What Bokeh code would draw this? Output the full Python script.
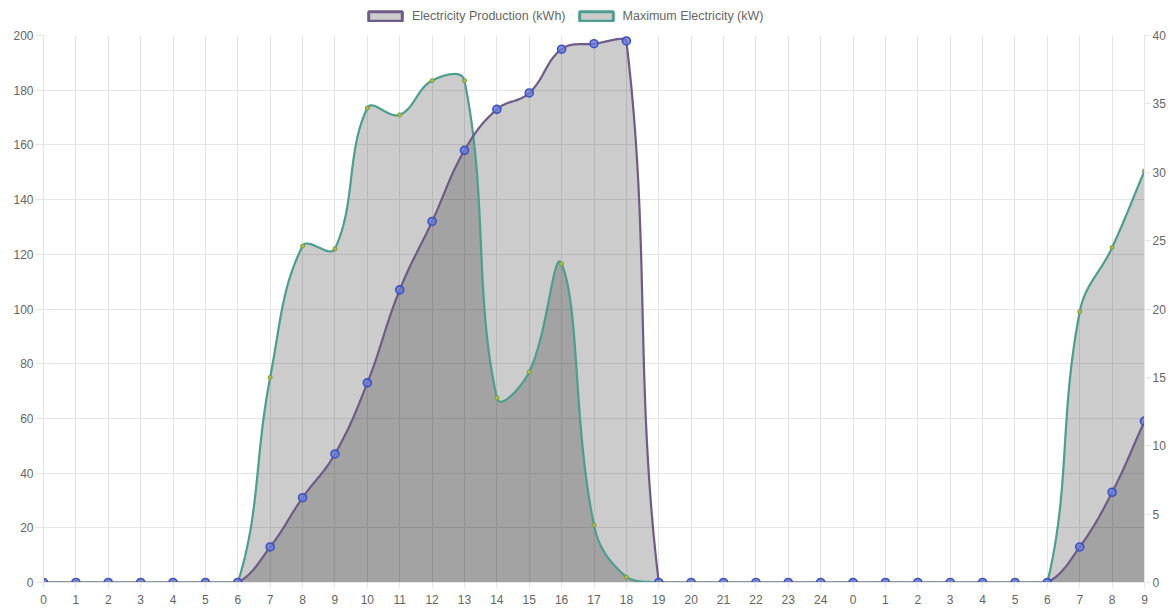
import math
import numpy as np
from bokeh.plotting import figure
from bokeh.layouts import column
from bokeh.models import (Range1d, LinearAxis, FixedTicker, Legend, LegendItem)
from bokeh.embed import file_html
from bokeh.resources import INLINE

# ---------------- data ----------------
hour_labels = ["0", "1", "2", "3", "4", "5", "6", "7", "8", "9", "10", "11", "12",
               "13", "14", "15", "16", "17", "18", "19", "20", "21", "22", "23", "24",
               "0", "1", "2", "3", "4", "5", "6", "7", "8", "9"]
production_kwh = [0, 0, 0, 0, 0, 0, 0, 13, 31, 47, 73, 107, 132, 158, 173, 179, 195, 197, 198,
                  0, 0, 0, 0, 0, 0, 0, 0, 0, 0, 0, 0, 0, 13, 33, 59]
max_power_kw = [0, 0, 0, 0, 0, 0, 0, 15, 24.6, 24.4, 34.7, 34.2, 36.7, 36.7, 13.5, 15.4, 23.3, 4.2, 0.4,
                0, 0, 0, 0, 0, 0, 0, 0, 0, 0, 0, 0, 0, 19.8, 24.5, 30.1]
left_ticks = [0, 20, 40, 60, 80, 100, 120, 140, 160, 180, 200]
right_ticks = [0, 5, 10, 15, 20, 25, 30, 35, 40]
series_names = ["Electricity Production (kWh)", "Maximum Electricity (kW)"]

# ---------------- style ----------------
W = 1168
LEG_H = 27
H = 608 - LEG_H
ML, MR, MT, MB = 43, 23, 8, 26
FW, FH = W - ML - MR, H - MT - MB
PURPLE = "#6f5b88"
TEAL = "#4d9d90"
TXT = "#666666"
GRID = "#e5e5e5"
FONT = "Liberation Sans"

n = len(hour_labels)
LEFT_MAX, RIGHT_MAX = 200, 40


def chartjs_curve(vals, y_max, tension=0.4, steps=24):
    """Chart.js style cardinal spline computed in pixel space, returned in data units."""
    sx = FW / (n - 1)
    sy = FH / y_max
    px = [i * sx for i in range(n)]
    py = [v * sy for v in vals]
    cps = []
    for i in range(n):
        pi = max(i - 1, 0)
        ni = min(i + 1, n - 1)
        d01 = math.hypot(px[i] - px[pi], py[i] - py[pi])
        d12 = math.hypot(px[ni] - px[i], py[ni] - py[i])
        tot = d01 + d12
        s01 = d01 / tot if tot else 0.0
        s12 = d12 / tot if tot else 0.0
        fa, fb = tension * s01, tension * s12
        dx, dy = px[ni] - px[pi], py[ni] - py[pi]
        cpp = [px[i] - fa * dx, py[i] - fa * dy]
        cpn = [px[i] + fb * dx, py[i] + fb * dy]
        for c in (cpp, cpn):
            c[0] = min(max(c[0], 0), FW)
            c[1] = min(max(c[1], 0), FH)
        cps.append((cpp, cpn))
    xs, ys = [px[0]], [py[0]]
    for i in range(n - 1):
        p0 = (px[i], py[i]); c1 = cps[i][1]; c2 = cps[i + 1][0]; p1 = (px[i + 1], py[i + 1])
        for k in range(1, steps + 1):
            t = k / steps
            a = (1 - t) ** 3; b = 3 * (1 - t) ** 2 * t; c = 3 * (1 - t) * t ** 2; d = t ** 3
            xs.append(a * p0[0] + b * c1[0] + c * c2[0] + d * p1[0])
            ys.append(a * p0[1] + b * c1[1] + c * c2[1] + d * p1[1])
    return [x / sx for x in xs], [y / sy for y in ys]


p = figure(width=W, height=H, output_backend="svg", toolbar_location=None,
           x_range=Range1d(0, n - 1), y_range=Range1d(0, LEFT_MAX),
           min_border_left=ML, min_border_top=MT, min_border_right=MR, min_border_bottom=MB)
p.extra_y_ranges = {"kw": Range1d(0, RIGHT_MAX)}
p.outline_line_color = None
p.background_fill_color = "white"

# axes
p.xaxis.ticker = FixedTicker(ticks=list(range(n)))
p.xaxis.major_label_overrides = {i: lab for i, lab in enumerate(hour_labels)}
p.yaxis.ticker = FixedTicker(ticks=left_ticks)
raxis = LinearAxis(y_range_name="kw", ticker=FixedTicker(ticks=right_ticks))
p.add_layout(raxis, "right")
for ax in [p.xaxis[0], p.yaxis[0], raxis]:
    ax.axis_line_color = GRID
    ax.major_tick_line_color = GRID
    ax.minor_tick_line_color = None
    ax.major_tick_in = 0
    ax.major_label_text_color = TXT
    ax.major_label_text_font = FONT
    ax.major_label_text_font_size = "12px"
p.xaxis.major_tick_out = 6
p.xaxis.major_label_standoff = 6
p.yaxis[0].major_tick_out = 8
p.yaxis[0].major_label_standoff = 2
raxis.major_tick_out = 6
raxis.major_label_standoff = 2

p.xgrid.ticker = FixedTicker(ticks=list(range(n)))
p.xgrid.grid_line_color = GRID
p.ygrid.grid_line_color = GRID

# curves
mx, my = chartjs_curve(max_power_kw, RIGHT_MAX)
px_, py_ = chartjs_curve(production_kwh, LEFT_MAX)

p.patch(mx + [mx[-1], mx[0]], my + [0, 0], y_range_name="kw",
        fill_color="black", fill_alpha=0.2, line_color=None)
p.patch(px_ + [px_[-1], px_[0]], py_ + [0, 0],
        fill_color="black", fill_alpha=0.2, line_color=None)
p.line(mx, my, y_range_name="kw", line_color=TEAL, line_width=2.2)
p.line(px_, py_, line_color=PURPLE, line_width=2.2)

xs = list(range(n))
p.scatter(xs, max_power_kw, y_range_name="kw", size=4, fill_color="#a9c24e",
          line_color="#7a9a3c", line_width=1)
p.scatter(xs, production_kwh, size=8, fill_color="#6a7bd6", fill_alpha=0.8,
          line_color="#3f51c0", line_width=1.6)

# ---------------- legend strip ----------------
lg = figure(width=W, height=LEG_H, output_backend="svg", toolbar_location=None,
            x_range=Range1d(0, 1), y_range=Range1d(0, 1), x_axis_type=None, y_axis_type=None,
            min_border=0)
lg.outline_line_color = None
lg.xgrid.visible = False
lg.ygrid.visible = False
nan = np.array([np.nan])
r1 = lg.rect(x=nan, y=nan, width=1, height=1, fill_color="black", fill_alpha=0.2,
             line_color=PURPLE, line_width=3)
r2 = lg.rect(x=nan, y=nan, width=1, height=1, fill_color="black", fill_alpha=0.2,
             line_color=TEAL, line_width=3)
legend = Legend(items=[LegendItem(label=series_names[0], renderers=[r1]),
                       LegendItem(label=series_names[1], renderers=[r2])],
                orientation="horizontal", location=(321, 4),
                glyph_width=42, glyph_height=12, label_height=12, label_standoff=6,
                spacing=9, padding=0, margin=0, border_line_color=None,
                background_fill_alpha=0, label_text_color=TXT, label_text_font=FONT,
                label_text_font_size="12.5px")
lg.add_layout(legend, "center")

layout = column(lg, p, spacing=0)
open("out.html", "w").write(file_html(layout, INLINE))
